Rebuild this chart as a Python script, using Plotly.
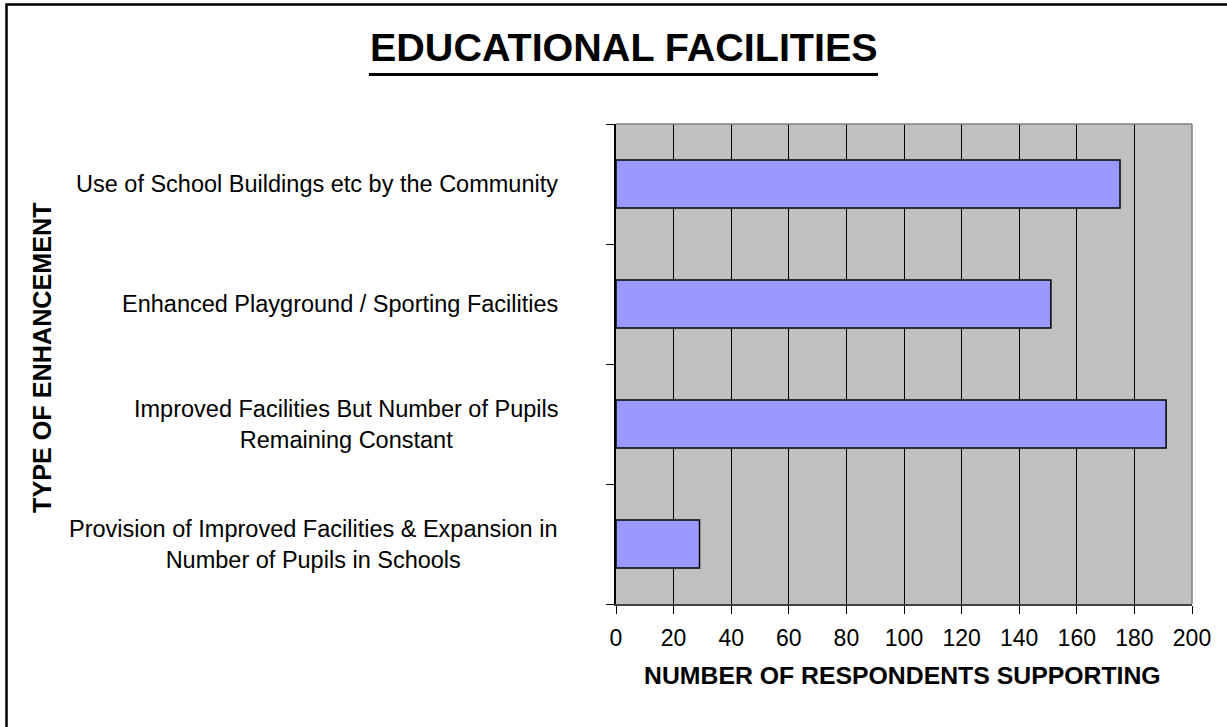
import plotly.graph_objects as go

categories = [
    "Provision of Improved Facilities & Expansion in<br>Number of Pupils in Schools",
    "Improved Facilities But Number of Pupils<br>Remaining Constant",
    "Enhanced Playground / Sporting Facilities",
    "Use of School Buildings etc by the Community",
]
values = [29, 191, 151, 175]
x_ticks = [0, 20, 40, 60, 80, 100, 120, 140, 160, 180, 200]

title_text = "EDUCATIONAL FACILITIES"
x_title = "NUMBER OF RESPONDENTS SUPPORTING"
y_title = "TYPE OF ENHANCEMENT"

FONT = "Liberation Sans, Arial, sans-serif"
W, H = 1227, 727
L, R, T, B = 616, 35, 124, 123
PW, PH = W - L - R, H - T - B


def px(x):
    return (x - L) / PW


def py(y):
    return (H - B - y) / PH


fig = go.Figure()
fig.add_trace(go.Bar(
    x=values,
    y=list(range(len(categories))),
    orientation="h",
    marker=dict(color="#9999FF", line=dict(color="#000000", width=1.5)),
    width=0.4,
    hoverinfo="x",
))

annotations = []
for i, c in enumerate(categories):
    annotations.append(dict(
        x=px(560), xref="paper", y=i, yref="y",
        text=c, showarrow=False, xanchor="right", yanchor="middle",
        align="center", font=dict(family=FONT, size=23.5, color="#000000"),
    ))
annotations.append(dict(
    x=px(42), xref="paper", y=py(358), yref="paper",
    text="<b>" + y_title + "</b>", showarrow=False, textangle=-90,
    xanchor="center", yanchor="middle",
    font=dict(family=FONT, size=25.2, color="#000000"),
))
annotations.append(dict(
    x=px(623.5), xref="paper", y=py(47), yref="paper",
    text="<b>" + title_text + "</b>", showarrow=False,
    xanchor="center", yanchor="middle",
    font=dict(family=FONT, size=39.5, color="#000000"),
))
annotations.append(dict(
    x=px(902), xref="paper", y=py(675), yref="paper",
    text="<b>" + x_title + "</b>", showarrow=False,
    xanchor="center", yanchor="middle",
    font=dict(family=FONT, size=24.8, color="#000000"),
))

shapes = [
    # title underline
    dict(type="line", xref="paper", yref="paper",
         x0=px(369), x1=px(878), y0=py(74.5), y1=py(74.5),
         line=dict(color="#000000", width=3)),
    # outer frame (left and top visible)
    dict(type="rect", xref="paper", yref="paper",
         x0=px(6.5), x1=px(1240), y0=py(4.5), y1=py(740),
         line=dict(color="#000000", width=2.5)),
    # plot area top/right border
    dict(type="line", xref="paper", yref="paper", x0=0, x1=1, y0=1, y1=1,
         line=dict(color="#808080", width=1.5)),
    dict(type="line", xref="paper", yref="paper", x0=1, x1=1, y0=0, y1=1,
         line=dict(color="#808080", width=1.5)),
]

fig.update_layout(
    width=W, height=H,
    margin=dict(l=L, r=R, t=T, b=B, pad=0),
    paper_bgcolor="#FFFFFF",
    plot_bgcolor="#C0C0C0",
    showlegend=False,
    annotations=annotations,
    shapes=shapes,
    font=dict(family=FONT, color="#000000"),
    xaxis=dict(
        range=[0, 200], tickvals=x_ticks, ticktext=[str(v) for v in x_ticks],
        showgrid=True, gridcolor="#000000", gridwidth=1,
        ticks="outside", ticklen=8, tickcolor="#000000", tickwidth=1,
        showline=True, linecolor="#404040", linewidth=1.5,
        tickfont=dict(family=FONT, size=23, color="#000000"),
        ticklabelstandoff=5,
        zeroline=False, fixedrange=True,
    ),
    yaxis=dict(
        range=[-0.5, 3.5],
        tickvals=[-0.5, 0.5, 1.5, 2.5, 3.5], ticktext=["", "", "", "", ""],
        showgrid=False, zeroline=False,
        ticks="outside", ticklen=8, tickcolor="#000000", tickwidth=1,
        showline=True, linecolor="#000000", linewidth=2,
        fixedrange=True,
    ),
)

fig.write_html("out.html", config={"displayModeBar": False},
               post_script="document.body.style.margin='0';")
